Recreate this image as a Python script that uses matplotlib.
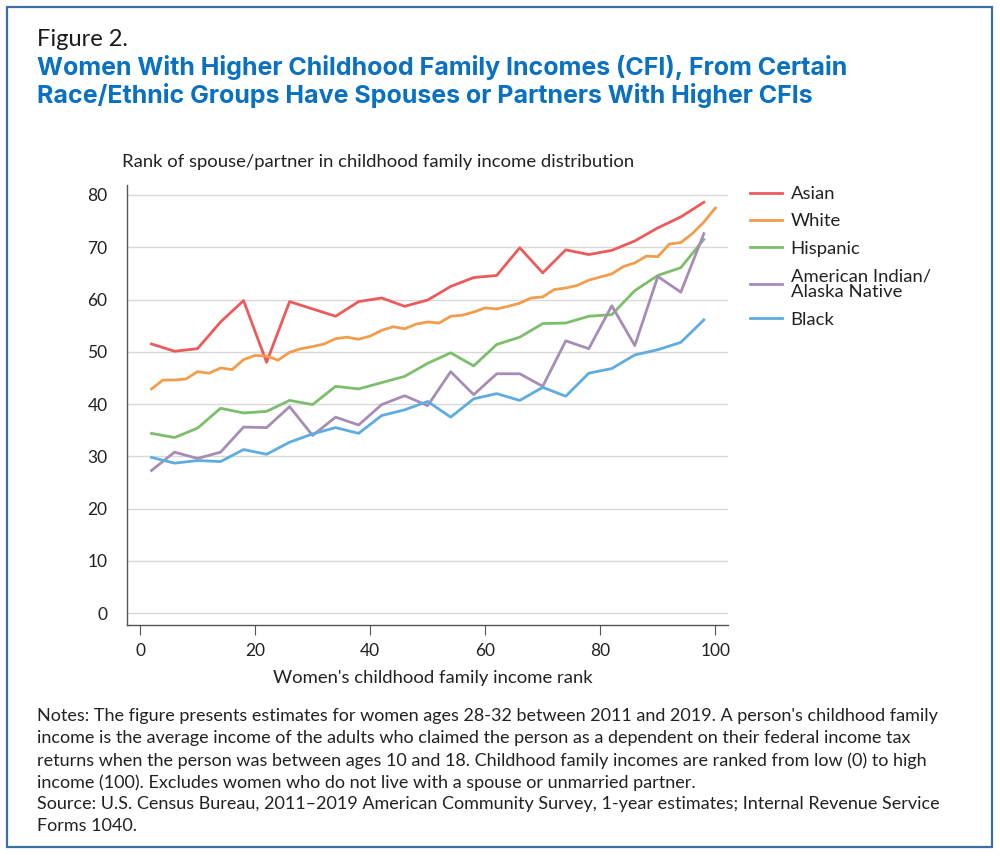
import matplotlib
matplotlib.use('Agg')
from matplotlib import pyplot as plt
from matplotlib.patches import Rectangle

# women's childhood family income rank
x_step4 = [2, 6, 10, 14, 18, 22, 26, 30, 34, 38, 42, 46, 50,
           54, 58, 62, 66, 70, 74, 78, 82, 86, 90, 94, 98]
x_white = list(range(2, 101, 2))

asian = [51.5, 50.1, 50.6, 55.7, 59.8, 48.0, 59.6, 58.2, 56.8, 59.6, 60.3, 58.7, 59.9,
         62.5, 64.2, 64.6, 69.9, 65.1, 69.5, 68.6, 69.4, 71.2, 73.7, 75.8, 78.6]
white = [42.9, 44.6, 44.6, 44.8, 46.2, 45.9, 46.9, 46.6, 48.5, 49.3,
         49.2, 48.4, 49.9, 50.6, 51.0, 51.5, 52.5, 52.8, 52.4, 53.0,
         54.1, 54.8, 54.4, 55.3, 55.7, 55.5, 56.8, 57.0, 57.6, 58.4,
         58.2, 58.7, 59.3, 60.3, 60.5, 61.9, 62.2, 62.7, 63.7, 64.3,
         64.9, 66.3, 67.0, 68.3, 68.2, 70.6, 70.9, 72.6, 74.8, 77.5]
hispanic = [34.4, 33.6, 35.4, 39.2, 38.3, 38.6, 40.7, 39.9, 43.4, 42.9, 44.1, 45.3, 47.8,
            49.8, 47.3, 51.4, 52.8, 55.4, 55.5, 56.8, 57.1, 61.7, 64.6, 66.1, 71.5]
aian = [27.3, 30.8, 29.6, 30.8, 35.6, 35.5, 39.5, 34.0, 37.5, 36.0, 39.9, 41.6, 39.7,
        46.2, 41.8, 45.8, 45.8, 43.4, 52.1, 50.6, 58.8, 51.2, 64.4, 61.4, 72.6]
black = [29.8, 28.7, 29.2, 29.0, 31.3, 30.4, 32.7, 34.3, 35.5, 34.4, 37.8, 38.9, 40.5,
         37.5, 41.0, 42.0, 40.7, 43.2, 41.5, 45.9, 46.8, 49.4, 50.4, 51.8, 56.1]

labels = ['Asian', 'White', 'Hispanic', 'American Indian/\nAlaska Native', 'Black']
colors = ['#EC5B5B', '#F29D4B', '#7CBE6C', '#A68DB6', '#5EACE0']

plt.rcParams['font.family'] = ['Lato', 'DejaVu Sans']

W, H = 1000, 858
fig = plt.figure(figsize=(W / 100, H / 100), dpi=100)

def fx(px):
    return px / W

def fy(py):
    return 1 - py / H

# blue frame round the whole figure
fig.patches.append(Rectangle((fx(7), fy(847)), fx(992) - fx(7), fy(7) - fy(847),
                             transform=fig.transFigure, fill=False,
                             edgecolor='#3B6FA8', linewidth=1.6))

fig.text(fx(37), fy(40), 'Figure 2.', fontsize=17, color='#1a1a1a', va='center')
fig.text(fx(37), fy(67), 'Women With Higher Childhood Family Incomes (CFI), From Certain',
         fontsize=18, fontweight='bold', color='#0A70C0', va='center', family='Inter')
fig.text(fx(37), fy(95), 'Race/Ethnic Groups Have Spouses or Partners With Higher CFIs',
         fontsize=18, fontweight='bold', color='#0A70C0', va='center', family='Inter')

ax = fig.add_axes([fx(127), fy(624.7), fx(728) - fx(127), fy(184.5) - fy(624.7)])

ax.plot(x_step4, asian, color=colors[0], lw=2, label=labels[0])
ax.plot(x_white, white, color=colors[1], lw=2, label=labels[1])
ax.plot(x_step4, hispanic, color=colors[2], lw=2, label=labels[2])
ax.plot(x_step4, aian, color=colors[3], lw=2, label=labels[3])
ax.plot(x_step4, black, color=colors[4], lw=2, label=labels[4])

ax.set_xlim(-2.26, 102.2)
ax.set_ylim(-2.2, 82)
ax.set_xticks(range(0, 101, 20))
ax.set_yticks(range(0, 81, 10))
ax.grid(axis='y', color='#d9d9d9', lw=1)
ax.set_axisbelow(True)
for s in ['top', 'right']:
    ax.spines[s].set_visible(False)
for s in ['left', 'bottom']:
    ax.spines[s].set_color('#555555')
    ax.spines[s].set_linewidth(1)
ax.tick_params(axis='y', length=0, pad=14, labelsize=12.5, labelcolor='#222222')
ax.tick_params(axis='x', length=7, color='#555555', pad=6, labelsize=12.5, labelcolor='#222222')

fig.text(fx(122), fy(162), 'Rank of spouse/partner in childhood family income distribution',
         fontsize=13.3, color='#222222', va='center')
fig.text(fx(433), fy(678), "Women's childhood family income rank",
         fontsize=13.3, color='#222222', va='center', ha='center')

leg = ax.legend(loc='upper left', bbox_to_anchor=(fx(750), fy(186)),
                bbox_transform=fig.transFigure, frameon=False, fontsize=13.3,
                handlelength=1.75, handletextpad=0.45, labelspacing=0.62,
                borderaxespad=0, borderpad=0)
for t in leg.get_texts():
    t.set_color('#222222')
    t.set_linespacing(1.0)

notes = ("Notes: The figure presents estimates for women ages 28-32 between 2011 and 2019. A person's childhood family\n"
         "income is the average income of the adults who claimed the person as a dependent on their federal income tax\n"
         "returns when the person was between ages 10 and 18. Childhood family incomes are ranked from low (0) to high\n"
         "income (100). Excludes women who do not live with a spouse or unmarried partner.")
source = ("Source: U.S. Census Bureau, 2011\u20132019 American Community Survey, 1-year estimates; Internal Revenue Service\n"
          "Forms 1040.")
fig.text(fx(37), fy(708), notes, fontsize=13, color='#222222', va='top', linespacing=1.45)
fig.text(fx(37), fy(796), source, fontsize=13, color='#222222', va='top', linespacing=1.45)

fig.savefig('out.png', dpi=100)
